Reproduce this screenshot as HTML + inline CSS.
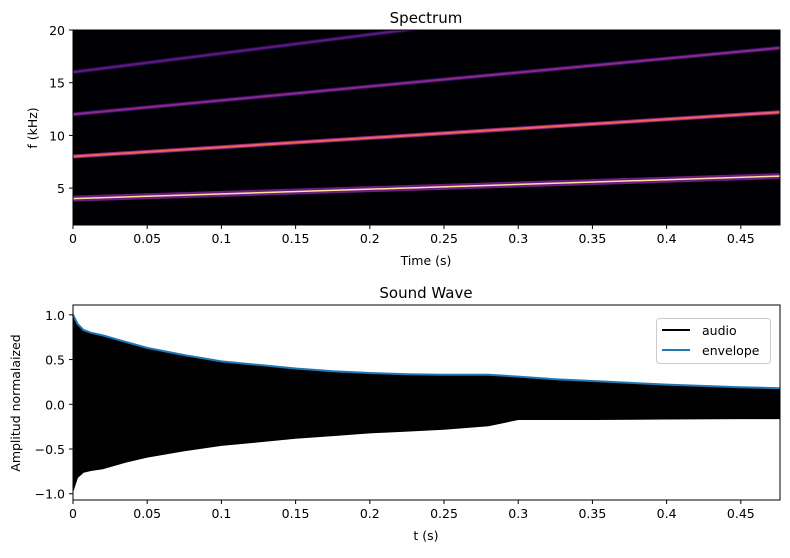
<!DOCTYPE html>
<html><head><meta charset="utf-8">
<style>
body{margin:0;background:#fff;}
svg text{font-family:"DejaVu Sans","Liberation Sans",sans-serif;}
</style></head>
<body>
<svg id="fig" width="790" height="553" viewBox="0 0 790 553" xmlns="http://www.w3.org/2000/svg"></svg>
<script>
// ---- spectrogram data ----
const specTimeRange = [0, 0.4764];
const specFreqRange = [1.5, 20];
const harmonicStartKHz = [4, 8, 12, 16];
const harmonicEndKHz = [6.14, 12.2, 18.3, 24.5];
const harmonicColors = ['#fde29a', '#f2605c', '#8c2981', '#5c1a7a'];
const harmonicGlow = ['#6a1c81', '#8c2981', '#3b0f70', '#2a0a55'];
const specXTicks = [0, 0.05, 0.1, 0.15, 0.2, 0.25, 0.3, 0.35, 0.4, 0.45];
const specXTickLabels = ['0','0.05','0.1','0.15','0.2','0.25','0.3','0.35','0.4','0.45'];
const specYTicks = [5, 10, 15, 20];
// ---- sound wave data ----
const waveTimes = [0, 0.003, 0.007, 0.012, 0.02, 0.035, 0.05, 0.075, 0.1, 0.125, 0.15, 0.175, 0.2, 0.225, 0.25, 0.28, 0.3, 0.325, 0.35, 0.4, 0.45, 0.4764];
const envelopeUpper = [1.0, 0.9, 0.83, 0.8, 0.77, 0.7, 0.63, 0.55, 0.48, 0.44, 0.4, 0.37, 0.35, 0.335, 0.33, 0.33, 0.31, 0.28, 0.26, 0.22, 0.19, 0.18];
const audioLower = [-0.97, -0.82, -0.76, -0.74, -0.72, -0.65, -0.59, -0.52, -0.46, -0.42, -0.38, -0.35, -0.32, -0.30, -0.28, -0.24, -0.17, -0.17, -0.17, -0.165, -0.16, -0.16];
const waveYRange = [-1.07, 1.11];
const waveYTicks = [-1, -0.5, 0, 0.5, 1];
const waveYTickLabels = ['\u22121.0', '\u22120.5', '0.0', '0.5', '1.0'];

const NS = 'http://www.w3.org/2000/svg';
const svg = document.getElementById('fig');
function mk(tag, attrs, parent) {
  const e = document.createElementNS(NS, tag);
  for (const k in attrs) e.setAttribute(k, attrs[k]);
  (parent || svg).appendChild(e);
  return e;
}
const A1 = {l: 73, r: 780, t: 30, b: 225};
const A2 = {l: 73, r: 780, t: 305, b: 500};
const sx1 = t => A1.l + (t - specTimeRange[0]) / (specTimeRange[1] - specTimeRange[0]) * (A1.r - A1.l);
const sy1 = f => A1.b - (f - specFreqRange[0]) / (specFreqRange[1] - specFreqRange[0]) * (A1.b - A1.t);
const sx2 = t => A2.l + (t - specTimeRange[0]) / (specTimeRange[1] - specTimeRange[0]) * (A2.r - A2.l);
const sy2 = v => A2.b - (v - waveYRange[0]) / (waveYRange[1] - waveYRange[0]) * (A2.b - A2.t);

const defs = mk('defs', {});
const cp = mk('clipPath', {id: 'clip1'}, defs);
mk('rect', {x: A1.l, y: A1.t, width: A1.r - A1.l, height: A1.b - A1.t}, cp);
const bg = mk('rect', {x: A1.l, y: A1.t, width: A1.r - A1.l, height: A1.b - A1.t, fill: '#000004'});


const hg = mk('g', {'clip-path': 'url(#clip1)'});


harmonicStartKHz.forEach((f0, i) => {
  const x1 = sx1(specTimeRange[0]), x2 = sx1(specTimeRange[1]);
  const y1 = sy1(f0), y2 = sy1(harmonicEndKHz[i]);
  const glow = mk('line', {x1, y1, x2, y2, stroke: harmonicGlow[i], 'stroke-width': i === 0 ? 6 : 4}, hg);
  
  
  const ln = mk('line', {x1, y1, x2, y2, stroke: harmonicColors[i], 'stroke-width': i === 0 ? 1.5 : 2}, hg);
  
  
});
const frame1 = mk('rect', {x: A1.l, y: A1.t, width: A1.r - A1.l, height: A1.b - A1.t, fill: 'none', stroke: '#000', 'stroke-width': 1});



function xTicks(sx, A, labelsArr, g) {
  specXTicks.forEach((t, i) => {
    const x = sx(t);
    mk('line', {x1: x, x2: x, y1: A.b, y2: A.b + 4, stroke: '#000'}, g);
    const tx = mk('text', {x, y: A.b + 18, 'font-size': 12.5, 'text-anchor': 'middle'}, g);
    tx.textContent = labelsArr[i];
    
    
  });
}
const xa1 = mk('g', {});


xTicks(sx1, A1, specXTickLabels, xa1);
const ya1 = mk('g', {});


specYTicks.forEach(f => {
  const y = sy1(f);
  mk('line', {x1: A1.l - 4, x2: A1.l, y1: y, y2: y, stroke: '#000'}, ya1);
  const tx = mk('text', {x: A1.l - 8, y: y + 5, 'font-size': 12.5, 'text-anchor': 'end'}, ya1);
  tx.textContent = String(f);
  
  
});
</script>
<script>
(function(){
  const NS = 'http://www.w3.org/2000/svg';
  const svg = document.getElementById('fig');
  function t(txt, attrs, name) {
    const e = document.createElementNS(NS, 'text');
    for (const k in attrs) e.setAttribute(k, attrs[k]);
    e.textContent = txt;
    
    
    svg.appendChild(e);
  }
  t('Spectrum', {x: 426, y: 23, 'font-size': 15, 'text-anchor': 'middle'}, 'spectrum-title');
  t('Time (s)', {x: 426, y: 265, 'font-size': 12.5, 'text-anchor': 'middle'}, 'spectrum-x-axis-title');
  t('f (kHz)', {x: 37, y: 128, 'font-size': 12.5, 'text-anchor': 'middle', transform: 'rotate(-90 37 128)'}, 'spectrum-y-axis-title');
  t('Sound Wave', {x: 426, y: 298, 'font-size': 15, 'text-anchor': 'middle'}, 'sound-wave-title');
  t('t (s)', {x: 426, y: 540, 'font-size': 12.5, 'text-anchor': 'middle'}, 'sound-wave-x-axis-title');
  t('Amplitud normalaized', {x: 20, y: 403, 'font-size': 12.5, 'text-anchor': 'middle', transform: 'rotate(-90 20 403)'}, 'sound-wave-y-axis-title');
})();
</script>
<script>
const wg = mk('g', {});


let d = '';
waveTimes.forEach((t, i) => { d += (i ? 'L' : 'M') + sx2(t).toFixed(1) + ' ' + sy2(envelopeUpper[i] - 0.01).toFixed(1); });
for (let i = waveTimes.length - 1; i >= 0; i--) d += 'L' + sx2(waveTimes[i]).toFixed(1) + ' ' + sy2(audioLower[i]).toFixed(1);
d += 'Z';
const audio = mk('path', {d, fill: '#000', stroke: '#000', 'stroke-width': 1}, wg);


let de = '';
waveTimes.forEach((t, i) => { de += (i ? 'L' : 'M') + sx2(t).toFixed(1) + ' ' + sy2(envelopeUpper[i]).toFixed(1); });
const env = mk('path', {d: de, fill: 'none', stroke: '#1f77b4', 'stroke-width': 2}, wg);


const frame2 = mk('rect', {x: A2.l, y: A2.t, width: A2.r - A2.l, height: A2.b - A2.t, fill: 'none', stroke: '#000', 'stroke-width': 1});


const xa2 = mk('g', {});


xTicks(sx2, A2, specXTickLabels, xa2);
const ya2 = mk('g', {});


waveYTicks.forEach((v, i) => {
  const y = sy2(v);
  mk('line', {x1: A2.l - 4, x2: A2.l, y1: y, y2: y, stroke: '#000'}, ya2);
  const tx = mk('text', {x: A2.l - 8, y: y + 5, 'font-size': 12.5, 'text-anchor': 'end'}, ya2);
  tx.textContent = waveYTickLabels[i];
  
  
});
const lg = mk('g', {});


mk('rect', {x: 656.5, y: 318.5, width: 114, height: 45, rx: 3, fill: '#fff', 'fill-opacity': 0.8, stroke: '#ccc'}, lg);
const la = mk('g', {}, lg);


mk('line', {x1: 662, x2: 690, y1: 330, y2: 330, stroke: '#000', 'stroke-width': 2}, la);
const lat = mk('text', {x: 702, y: 335, 'font-size': 12.5}, la);
lat.textContent = 'audio';
const le = mk('g', {}, lg);


mk('line', {x1: 662, x2: 690, y1: 350, y2: 350, stroke: '#1f77b4', 'stroke-width': 2}, le);
const let_ = mk('text', {x: 702, y: 355, 'font-size': 12.5}, le);
let_.textContent = 'envelope';
</script>
</body></html>
